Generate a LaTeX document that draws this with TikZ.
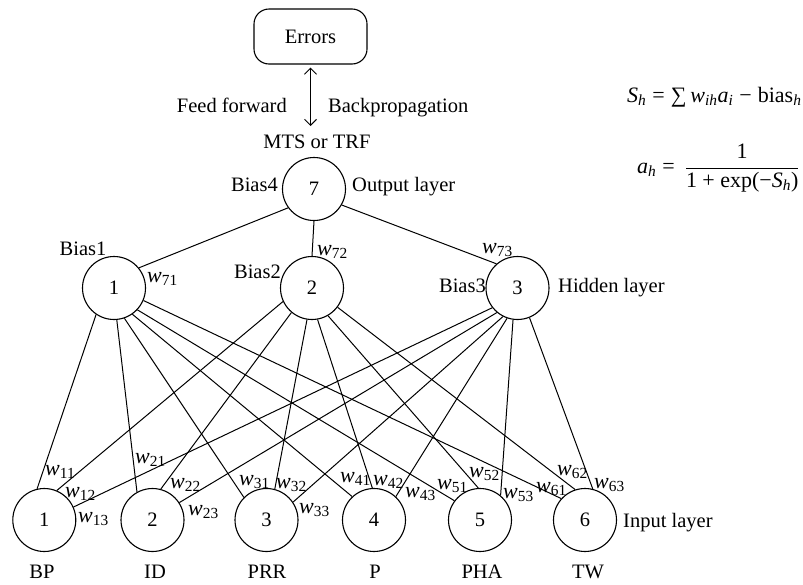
\documentclass[tikz,border=0pt]{standalone}
\usepackage{fontspec}
\setmainfont{Liberation Serif}
\usetikzlibrary{arrows.meta}
\newcommand{\wsub}[1]{\textit{w}\textsubscript{#1}}
\begin{document}
\begin{tikzpicture}[x=1pt,y=-1pt,
  font=\fontsize{20.5}{24}\selectfont,
  neuron/.style={circle,draw,line width=1.1pt,minimum size=63pt,inner sep=0pt},
  link/.style={line width=1pt},
  lab/.style={inner sep=0pt},
  wlab/.style={inner sep=0pt,anchor=base west,font=\fontsize{22}{24}\selectfont},
  formula/.style={inner sep=0pt,anchor=base west,font=\fontsize{22}{26}\selectfont},
  tip/.tip={Straight Barb[length=6pt,width=12pt]}]
\useasboundingbox[fill=white] (0,0) rectangle (803,584);

% top
\node[draw,rounded corners=15pt,minimum width=113pt,minimum height=55pt,line width=1.1pt] (err) at (310.5,36.5) {Errors};
\coordinate (arrend) at (310.5,126);
\draw[link,tip-tip] ([yshift=-3pt]err.south) -- (arrend);
\node[lab,anchor=base east] (ff) at (287,112) {Feed forward};
\node[lab,anchor=base west] (bp) at (328,112) {Backpropagation};
\node[lab,anchor=base] (mts) at (317,148) {MTS or TRF};

% formulas
\node[formula] (f1) at (627,102) {\textit{S}\textsubscript{\textit{h}}\hspace{6pt}=\hspace{6pt}∑\hspace{4pt}\textit{w}\textsubscript{\textit{ih}}\textit{a}\textsubscript{\textit{i}}\hspace{6pt}−\hspace{6pt}bias\textsubscript{\textit{h}}};
\node[formula] (f2) at (637,173) {$\displaystyle\mbox{\textit{a}\textsubscript{\textit{h}}\hspace{6pt}=\hspace{10pt}}\frac{\mbox{1}}{\mbox{1 + exp(−\textit{S}\textsubscript{\textit{h}})}}$};

% neurons
\node[neuron] (o) at (314,189) {7};
\node[neuron] (h1) at (114,288) {1};
\node[neuron] (h2) at (312,288) {2};
\node[neuron] (h3) at (517.5,288) {3};
\node[neuron] (i1) at (44.3,520) {1};
\node[neuron] (i2) at (152.5,520) {2};
\node[neuron] (i3) at (266.5,520) {3};
\node[neuron] (i4) at (374,520) {4};
\node[neuron] (i5) at (480,520) {5};
\node[neuron] (i6) at (585,520) {6};

% layer and bias labels
\node[lab,anchor=base east] (b4) at (278,191) {Bias4};
\node[lab,anchor=base west] (ol) at (352,191) {Output layer};
\node[lab,anchor=base] (b1) at (83,255) {Bias1};
\node[lab,anchor=base east] (b2) at (281,278) {Bias2};
\node[lab,anchor=base east] (b3) at (486,292) {Bias3};
\node[lab,anchor=base west] (hl) at (558,292) {Hidden layer};
\node[lab,anchor=base west] (il) at (623,527) {Input layer};
\node[lab,anchor=base] (n1) at (42,578) {BP};
\node[lab,anchor=base] (n2) at (155,578) {ID};
\node[lab,anchor=base] (n3) at (267,578) {PRR};
\node[lab,anchor=base] (n4) at (375,578) {P};
\node[lab,anchor=base] (n5) at (482,578) {PHA};
\node[lab,anchor=base] (n6) at (588,578) {TW};

% output to hidden
\draw[link] (o.216) -- (h1.39);
\draw[link] (o.270) -- (h2.90);
\draw[link] (o.330) -- (h3.131.7);

% hidden to input
\draw[link] (h1.236) -- (i1.103);
\draw[link] (h1.275) -- (i2.119);
\draw[link] (h1.289.5) -- (i3.135.6);
\draw[link] (h1.305) -- (i4.133.7);
\draw[link] (h1.317.5) -- (i5.143.5);
\draw[link] (h1.337.5) -- (i6.138.8);

\draw[link] (h2.205) -- (i1.67);
\draw[link] (h2.230) -- (i2.75);
\draw[link] (h2.261) -- (i3.75);
\draw[link] (h2.280.6) -- (i4.93.6);
\draw[link] (h2.300.6) -- (i5.93.6);
\draw[link] (h2.323.8) -- (i6.108);

\draw[link] (h3.218) -- (i1.24.4);
\draw[link] (h3.230.6) -- (i2.33);
\draw[link] (h3.243.4) -- (i3.34);
\draw[link] (h3.251.3) -- (i4.47.4);
\draw[link] (h3.262) -- (i5.50.8);
\draw[link] (h3.292) -- (i6.76);

% weight labels
\node[wlab] (w71) at (147,282) {\wsub{71}};
\node[wlab] (w72) at (317,255) {\wsub{72}};
\node[wlab] (w73) at (482,253) {\wsub{73}};
\node[wlab] (w11) at (45,475) {\wsub{11}};
\node[wlab] (w12) at (65,497) {\wsub{12}};
\node[wlab] (w13) at (78,522) {\wsub{13}};
\node[wlab] (w21) at (135,463) {\wsub{21}};
\node[wlab] (w22) at (170,488) {\wsub{22}};
\node[wlab] (w23) at (188,515) {\wsub{23}};
\node[wlab] (w31) at (239,485) {\wsub{31}};
\node[wlab] (w32) at (276,488) {\wsub{32}};
\node[wlab] (w33) at (299,513) {\wsub{33}};
\node[wlab] (w41) at (340,482) {\wsub{41}};
\node[wlab] (w42) at (373,485) {\wsub{42}};
\node[wlab] (w43) at (405,497) {\wsub{43}};
\node[wlab] (w51) at (437,489) {\wsub{51}};
\node[wlab] (w52) at (469,477) {\wsub{52}};
\node[wlab] (w53) at (503,498) {\wsub{53}};
\node[wlab] (w61) at (536,492) {\wsub{61}};
\node[wlab] (w62) at (557,475) {\wsub{62}};
\node[wlab] (w63) at (594,488) {\wsub{63}};
\end{tikzpicture}
\end{document}
